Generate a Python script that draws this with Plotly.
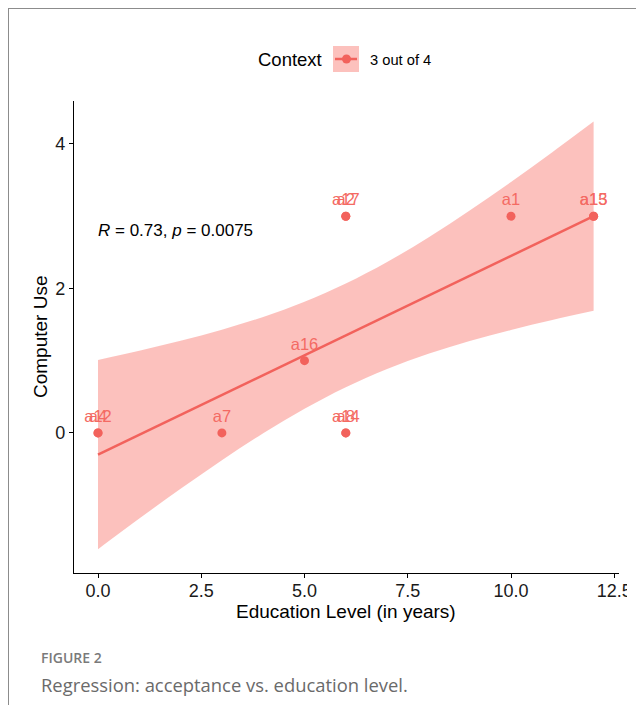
import plotly.graph_objects as go

# ---- data ----
edu_years = [0, 0, 3, 5, 6, 6, 6, 6, 10, 12, 12]
computer_use = [0, 0, 0, 1, 3, 3, 0, 0, 3, 3, 3]
point_labels = ["a4", "a12", "a7", "a16", "a2", "a17", "a8", "a14", "a1", "a13", "a15"]

fit_x = [0, 1, 2, 3, 4, 5, 6, 7, 8, 9, 10, 11, 12]
fit_y = [-0.30, -0.025, 0.25, 0.525, 0.80, 1.075, 1.35, 1.625, 1.90, 2.175, 2.45, 2.725, 3.00]
band_hi = [1.01, 1.136, 1.274, 1.428, 1.605, 1.816, 2.068, 2.366, 2.705, 3.078, 3.474, 3.886, 4.31]
band_lo = [-1.61, -1.186, -0.774, -0.378, -0.005, 0.334, 0.632, 0.884, 1.095, 1.272, 1.426, 1.564, 1.69]

x_ticks = [0, 2.5, 5, 7.5, 10, 12.5]
x_tick_text = ["0.0", "2.5", "5.0", "7.5", "10.0", "12.5"]
y_ticks = [0, 2, 4]
y_tick_text = ["0", "2", "4"]

legend_title = "Context"
group_name = "3 out of 4"
stat_text = "<i>R</i> = 0.73, <i>p</i> = 0.0075"

RED = "#F2625C"
LABEL_RED = "#F46A63"
BAND = "rgba(248,118,109,0.45)"
FONT = "Liberation Sans, Arial, sans-serif"

fig = go.Figure()
fig.add_trace(go.Scatter(
    x=fit_x, y=band_lo, mode="lines", line=dict(width=0, shape="spline"),
    hoverinfo="skip", showlegend=False))
fig.add_trace(go.Scatter(
    x=fit_x, y=band_hi, mode="lines", line=dict(width=0, shape="spline"),
    fill="tonexty", fillcolor=BAND, hoverinfo="skip", showlegend=False))
fig.add_trace(go.Scatter(
    x=fit_x, y=fit_y, mode="lines",
    line=dict(color=RED, width=2.5), showlegend=False))
fig.add_trace(go.Scatter(
    x=edu_years, y=computer_use, mode="markers+text",
    text=point_labels, textposition="top center",
    textfont=dict(family=FONT, size=16.5, color=LABEL_RED),
    marker=dict(color=RED, size=9), showlegend=False))

# page-pixel -> paper helpers (plot area: x 74..619, y 101..573 on page)
def px(x):
    return (x - 74) / 545.0

def py(y):
    return (573 - y) / 472.0

shapes = [
    # legend key
    dict(type="rect", xref="paper", yref="paper", x0=px(333), x1=px(359), y0=py(72), y1=py(46),
         fillcolor=BAND, line=dict(width=0)),
    dict(type="line", xref="paper", yref="paper", x0=px(335), x1=px(357), y0=py(59), y1=py(59),
         line=dict(color=RED, width=2.5)),
    dict(type="circle", xref="paper", yref="paper", x0=px(342), x1=px(351), y0=py(63.5), y1=py(54.5),
         fillcolor=RED, line=dict(width=0)),
    # frame lines of the page
    dict(type="line", xref="paper", yref="paper", x0=px(8), x1=px(644), y0=py(8), y1=py(8),
         line=dict(color="#8c8c8c", width=2)),
    dict(type="line", xref="paper", yref="paper", x0=px(8), x1=px(8), y0=py(8), y1=py(713),
         line=dict(color="#8c8c8c", width=2)),
    # cropped edge of the tick label
    dict(type="rect", xref="paper", yref="paper", x0=px(627), x1=px(650), y0=py(601), y1=py(577),
         fillcolor="white", line=dict(width=0), layer="above"),
]

annotations = [
    dict(text=legend_title, xref="paper", yref="paper", x=px(290), y=py(60),
         showarrow=False, font=dict(family=FONT, size=18.5, color="black"), xanchor="center", yanchor="middle"),
    dict(text=group_name, xref="paper", yref="paper", x=px(368), y=py(60),
         showarrow=False, font=dict(family=FONT, size=14.7, color="black"), xanchor="left", yanchor="middle"),
    dict(text=stat_text, xref="paper", yref="paper", x=px(96), y=py(230),
         showarrow=False, font=dict(family=FONT, size=17, color="black"), xanchor="left", yanchor="middle"),
    dict(text="Computer Use", xref="paper", yref="paper", x=px(40), y=py(337), textangle=-90,
         showarrow=False, font=dict(family=FONT, size=19, color="black"), xanchor="center", yanchor="middle"),
    dict(text="Education Level (in years)", xref="paper", yref="paper", x=px(346), y=py(611),
         showarrow=False, font=dict(family=FONT, size=19, color="black"), xanchor="center", yanchor="middle"),
    dict(text="FIGURE 2", xref="paper", yref="paper", x=px(39), y=py(657),
         showarrow=False, font=dict(family="Open Sans", size=14, color="#7a7a7a", weight=600),
         xanchor="left", yanchor="middle"),
    dict(text="Regression: acceptance vs. education level.", xref="paper", yref="paper", x=px(39), y=py(684),
         showarrow=False, font=dict(family="Open Sans", size=18.4, color="#6a6a6a"),
         xanchor="left", yanchor="middle"),
]

fig.update_layout(
    width=636, height=697,
    margin=dict(l=66, r=25, t=93, b=132, pad=0),
    paper_bgcolor="white", plot_bgcolor="white",
    showlegend=False,
    shapes=shapes, annotations=annotations,
    xaxis=dict(range=[-0.581, 12.615], tickvals=x_ticks, ticktext=x_tick_text,
               showline=True, linecolor="black", linewidth=1.3, showgrid=False, zeroline=False,
               ticks="outside", ticklen=4, tickcolor="black", tickwidth=1.2,
               ticklabelstandoff=-3,
               tickfont=dict(family=FONT, size=18, color="#1a1a1a")),
    yaxis=dict(range=[-1.94, 4.595], tickvals=y_ticks, ticktext=y_tick_text,
               showline=True, linecolor="black", linewidth=1.3, showgrid=False, zeroline=False,
               ticks="outside", ticklen=4, tickcolor="black", tickwidth=1.2,
               tickfont=dict(family=FONT, size=18, color="#1a1a1a")),
)

fig.write_html("out.html")
